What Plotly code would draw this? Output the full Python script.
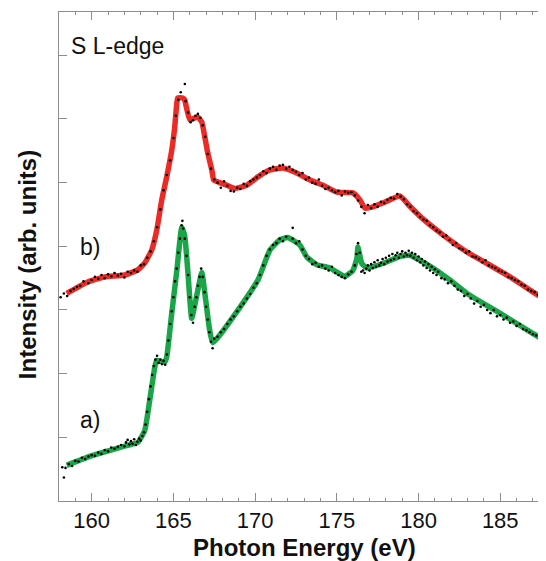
import plotly.graph_objects as go

# ---- fitted curves (eV, arb. units) ----
red_x = [158.47, 159.76, 160.80, 162.02, 162.82, 163.25, 163.67, 163.98, 164.29, 164.59, 164.90, 165.08,
         165.21, 165.27, 165.57, 165.69, 166.00, 166.49, 166.74, 166.92, 167.10, 167.35, 167.47, 168.27,
         168.76, 169.49, 170.17, 170.90, 171.70, 172.55, 173.35, 174.15, 175.00, 175.98, 176.41, 176.72,
         177.21, 177.82, 178.86, 179.47, 180.27, 181.49, 182.96, 184.19, 185.60, 187.01, 187.68]
red_y = [3.26, 3.44, 3.52, 3.55, 3.63, 3.74, 3.94, 4.25, 4.73, 5.09, 5.51, 5.87,
         6.25, 6.33, 6.33, 6.30, 5.99, 6.03, 5.95, 5.72, 5.47, 5.20, 5.04, 4.96,
         4.91, 4.96, 5.09, 5.20, 5.23, 5.15, 5.04, 4.96, 4.85, 4.84, 4.73, 4.60,
         4.62, 4.68, 4.79, 4.63, 4.43, 4.18, 3.91, 3.73, 3.52, 3.28, 3.18]

green_x = [158.47, 159.76, 161.84, 162.82, 163.25, 163.55, 163.86, 163.98, 164.47, 164.59, 164.90, 165.21,
           165.51, 165.69, 165.88, 166.12, 166.43, 166.74, 166.98, 167.41, 170.17, 170.90, 171.51, 172.00,
           172.74, 173.17, 173.78, 174.57, 175.49, 175.98, 176.23, 176.29, 176.53, 176.84, 177.82, 178.86,
           179.47, 180.09, 180.88, 181.92, 182.96, 184.98, 187.01, 187.85]
green_y = [0.56, 0.69, 0.85, 0.92, 1.11, 1.58, 2.10, 2.21, 2.18, 2.26, 2.95, 3.62,
           4.30, 4.17, 3.62, 2.87, 3.23, 3.59, 3.15, 2.49, 3.47, 3.94, 4.10, 4.14,
           4.02, 3.83, 3.71, 3.66, 3.53, 3.62, 3.81, 3.99, 3.73, 3.66, 3.73, 3.84,
           3.86, 3.78, 3.66, 3.47, 3.26, 2.95, 2.63, 2.50]

# ---- measured points ----
red_dx = [158.1, 158.3, 158.5, 158.7, 158.9, 159.1, 159.3, 159.5, 159.8, 160.0, 160.2, 160.4, 160.6, 160.8,
          161.0, 161.2, 161.4, 161.6, 161.8, 162.0, 162.2, 162.4, 162.6, 162.8, 163.0, 163.2, 163.4, 163.6,
          163.8, 164.0, 164.2, 164.4, 164.6, 164.8, 165.0, 165.15, 165.3, 165.45, 165.7, 165.75, 165.9, 166.05,
          166.2, 166.35, 166.5, 166.65, 166.8, 166.95, 167.1, 167.3, 167.5, 167.7, 167.9, 168.1, 168.3, 168.5,
          168.7, 168.9, 169.1, 169.3, 169.5, 169.7, 169.9, 170.1, 170.3, 170.5, 170.7, 170.9, 171.1, 171.3,
          171.5, 171.7, 171.9, 172.1, 172.3, 172.5, 172.7, 172.9, 173.1, 173.3, 173.5, 173.7, 173.9, 174.1,
          174.3, 174.5, 174.7, 174.9, 175.1, 175.3, 175.5, 175.7, 175.9, 176.1, 176.3, 176.5, 176.7, 176.9,
          177.1, 177.3, 177.5, 177.7, 177.9, 178.1, 178.3, 178.5, 178.7, 178.9, 179.1, 179.3, 179.5, 179.7,
          179.9, 180.1, 180.3, 180.5, 180.7, 180.9, 181.1, 181.3, 181.5, 181.7, 181.9, 182.1, 182.3, 182.5,
          182.7, 182.9, 183.1, 183.3, 183.5, 183.7, 183.9, 184.1, 184.3, 184.5, 184.7, 184.9, 185.1, 185.3,
          185.5, 185.7, 185.9, 186.1, 186.3, 186.5, 186.7, 186.9, 187.1, 187.3, 187.5, 187.7]
red_dy = [3.20, 3.26, 3.22, 3.30, 3.33, 3.36, 3.38, 3.45, 3.42, 3.47, 3.52, 3.49, 3.55, 3.50,
          3.56, 3.53, 3.58, 3.54, 3.57, 3.51, 3.60, 3.58, 3.62, 3.60, 3.70, 3.72, 3.82, 3.92,
          4.08, 4.30, 4.58, 4.88, 5.12, 5.35, 5.70, 6.05, 6.30, 6.42, 6.55, 6.28, 6.10, 5.95,
          5.98, 6.05, 6.08, 6.02, 5.90, 5.72, 5.45, 5.22, 5.05, 5.00, 4.92, 5.02, 4.95, 4.87,
          4.86, 4.92, 4.90, 4.98, 4.95, 5.02, 5.05, 5.08, 5.12, 5.18, 5.15, 5.22, 5.25, 5.20,
          5.27, 5.28, 5.22, 5.25, 5.20, 5.17, 5.12, 5.15, 5.05, 5.08, 5.00, 4.98, 5.05, 4.95,
          4.90, 4.92, 4.88, 4.85, 4.87, 4.80, 4.86, 4.84, 4.85, 4.80, 4.72, 4.62, 4.52, 4.65,
          4.60, 4.66, 4.62, 4.70, 4.68, 4.73, 4.76, 4.75, 4.82, 4.78, 4.74, 4.66, 4.62, 4.55,
          4.52, 4.46, 4.42, 4.40, 4.33, 4.30, 4.25, 4.22, 4.15, 4.17, 4.10, 4.02, 4.05, 3.97,
          3.95, 3.90, 3.92, 3.84, 3.83, 3.80, 3.75, 3.78, 3.70, 3.68, 3.66, 3.62, 3.60, 3.58,
          3.52, 3.50, 3.47, 3.45, 3.40, 3.38, 3.32, 3.30, 3.28, 3.24, 3.22, 3.17]

green_dx = [158.2, 158.3, 158.4, 158.6, 158.8, 159.0, 159.2, 159.4, 159.6, 159.8, 160.0, 160.2, 160.4, 160.6,
            160.8, 161.0, 161.2, 161.4, 161.6, 161.8, 162.0, 162.1, 162.2, 162.3, 162.4, 162.5, 162.6, 162.7,
            162.8, 162.9, 163.0, 163.1, 163.2, 163.3, 163.4, 163.5, 163.6, 163.7, 163.8, 163.9, 164.0, 164.1,
            164.2, 164.3, 164.4, 164.5, 164.6, 164.7, 164.8, 164.9, 165.0, 165.1, 165.2, 165.3, 165.4, 165.5,
            165.55, 165.6, 165.7, 165.8, 165.9, 166.0, 166.1, 166.2, 166.3, 166.4, 166.5, 166.6, 166.7, 166.8,
            166.9, 167.0, 167.1, 167.2, 167.3, 167.4, 167.5, 167.7, 167.9, 168.1, 168.3, 168.5, 168.7, 168.9,
            169.1, 169.3, 169.5, 169.7, 169.9, 170.1, 170.3, 170.5, 170.7, 170.9, 171.1, 171.3, 171.5, 171.7,
            171.9, 172.3, 172.3, 172.5, 172.7, 172.9, 173.1, 173.3, 173.5, 173.7, 173.9, 174.1, 174.3, 174.5,
            174.7, 174.9, 175.1, 175.3, 175.5, 175.7, 175.9, 176.1, 176.2, 176.3, 176.4, 176.5, 176.6, 176.7,
            176.8, 176.9, 177.0, 177.1, 177.2, 177.3, 177.4, 177.5, 177.6, 177.7, 177.8, 177.9, 178.0, 178.1,
            178.2, 178.3, 178.4, 178.5, 178.6, 178.7, 178.8, 178.9, 179.0, 179.1, 179.2, 179.3, 179.4, 179.5,
            179.6, 179.7, 179.8, 179.9, 180.0, 180.1, 180.2, 180.3, 180.4, 180.5, 180.6, 180.7, 180.8, 180.9,
            181.0, 181.1, 181.2, 181.4, 181.6, 181.8, 182.0, 182.2, 182.4, 182.6, 182.8, 183.0, 183.2, 183.4,
            183.6, 183.8, 184.0, 184.2, 184.4, 184.6, 184.8, 185.0, 185.2, 185.4, 185.6, 185.8, 186.0, 186.2,
            186.4, 186.6, 186.8, 187.0, 187.2, 187.4, 187.6]
green_dy = [0.53, 0.37, 0.52, 0.58, 0.55, 0.63, 0.62, 0.68, 0.66, 0.70, 0.72, 0.71, 0.76, 0.74,
            0.80, 0.78, 0.84, 0.82, 0.85, 0.88, 0.86, 0.92, 0.96, 0.89, 0.94, 0.90, 0.97, 0.88,
            0.93, 0.98, 0.95, 1.02, 1.08, 1.20, 1.40, 1.60, 1.80, 1.98, 2.12, 2.22, 2.28, 2.17,
            2.22, 2.15, 2.20, 2.14, 2.30, 2.52, 2.78, 2.98, 3.20, 3.45, 3.65, 3.90, 4.12, 4.33,
            4.40, 4.28, 4.12, 3.85, 3.55, 3.20, 2.92, 2.80, 3.05, 3.20, 3.38, 3.52, 3.65, 3.52,
            3.28, 3.05, 2.85, 2.65, 2.50, 2.40, 2.55, 2.58, 2.65, 2.70, 2.78, 2.85, 2.90, 2.98,
            3.05, 3.10, 3.18, 3.25, 3.35, 3.42, 3.55, 3.70, 3.85, 3.95, 4.02, 4.05, 4.12, 4.08,
            4.15, 4.29, 4.12, 4.05, 4.08, 3.95, 3.85, 3.80, 3.72, 3.74, 3.68, 3.70, 3.65, 3.62,
            3.68, 3.58, 3.55, 3.52, 3.50, 3.56, 3.60, 3.70, 3.88, 4.05, 3.90, 3.60, 3.62, 3.58,
            3.65, 3.70, 3.62, 3.72, 3.66, 3.75, 3.68, 3.78, 3.70, 3.74, 3.80, 3.72, 3.82, 3.76,
            3.85, 3.78, 3.88, 3.80, 3.86, 3.90, 3.82, 3.88, 3.92, 3.84, 3.90, 3.86, 3.93, 3.85,
            3.90, 3.82, 3.88, 3.78, 3.84, 3.75, 3.80, 3.70, 3.76, 3.66, 3.72, 3.62, 3.68, 3.58,
            3.64, 3.55, 3.60, 3.50, 3.48, 3.42, 3.45, 3.38, 3.32, 3.30, 3.22, 3.25, 3.18, 3.10,
            3.14, 3.05, 3.08, 3.00, 2.95, 3.00, 2.90, 2.92, 2.85, 2.88, 2.80, 2.82, 2.75, 2.78,
            2.70, 2.68, 2.65, 2.62, 2.60, 2.58, 2.55]

x_tick_vals = [160, 165, 170, 175, 180, 185]
x_tick_text = ["160", "165", "170", "175", "180", "185"]
y_tick_vals = [1, 2, 3, 4, 5, 6, 7]

FONT = "Liberation Sans, Arial, sans-serif"

fig = go.Figure()
fig.add_trace(go.Scatter(x=red_x, y=red_y, mode="lines",
                         line=dict(color="#ec2b26", width=5.5, shape="spline", smoothing=0.4),
                         showlegend=False, hoverinfo="skip"))
fig.add_trace(go.Scatter(x=green_x, y=green_y, mode="lines",
                         line=dict(color="#1aa648", width=5.5, shape="spline", smoothing=0.4),
                         showlegend=False, hoverinfo="skip"))
fig.add_trace(go.Scatter(x=red_dx, y=red_dy, mode="markers",
                         marker=dict(color="black", size=2.6),
                         showlegend=False))
fig.add_trace(go.Scatter(x=green_dx, y=green_dy, mode="markers",
                         marker=dict(color="black", size=2.6),
                         showlegend=False))

axis_col = "#8c8c8c"
# The page body has an 8px default margin; the figure is sized so the plot
# area reaches the right edge of the 546x561 window.
fig.update_layout(
    width=538, height=553,
    margin=dict(l=51, r=0, t=4, b=60),
    paper_bgcolor="white", plot_bgcolor="white",
    font=dict(family=FONT, color="#111"),
    xaxis=dict(range=[158.0, 187.8], tickvals=x_tick_vals, ticktext=x_tick_text,
               ticks="inside", ticklen=8, tickwidth=1, tickcolor=axis_col,
               minor=dict(dtick=1, tick0=0, ticks="inside", ticklen=3, tickcolor=axis_col),
               showline=True, linecolor=axis_col, linewidth=1, mirror="allticks",
               showgrid=False, zeroline=False,
               tickfont=dict(size=22, color="#111")),
    yaxis=dict(range=[0, 7.68], tickvals=y_tick_vals, showticklabels=False,
               ticks="inside", ticklen=8, tickwidth=1, tickcolor=axis_col,
               showline=True, linecolor=axis_col, linewidth=1, mirror="allticks",
               showgrid=False, zeroline=False),
    annotations=[
        dict(text="S L-edge", x=158.6, y=7.15, xref="x", yref="y", xanchor="left", yanchor="middle",
             showarrow=False, font=dict(size=23, family=FONT, color="#111")),
        dict(text="b)", x=159.15, y=3.99, xref="x", yref="y", xanchor="left", yanchor="middle",
             showarrow=False, font=dict(size=23, family=FONT, color="#111")),
        dict(text="a)", x=159.15, y=1.27, xref="x", yref="y", xanchor="left", yanchor="middle",
             showarrow=False, font=dict(size=23, family=FONT, color="#111")),
        dict(text="<b>Photon Energy (eV)</b>", x=0.505, y=-0.095, xref="paper", yref="paper",
             xanchor="center", yanchor="middle", showarrow=False,
             font=dict(size=24, family=FONT, color="#111")),
        dict(text="<b>Intensity (arb. units)</b>", x=-0.066, y=0.484, xref="paper", yref="paper",
             xanchor="center", yanchor="middle", textangle=-90, showarrow=False,
             font=dict(size=24, family=FONT, color="#111")),
    ],
)

fig.write_html("out.html")
